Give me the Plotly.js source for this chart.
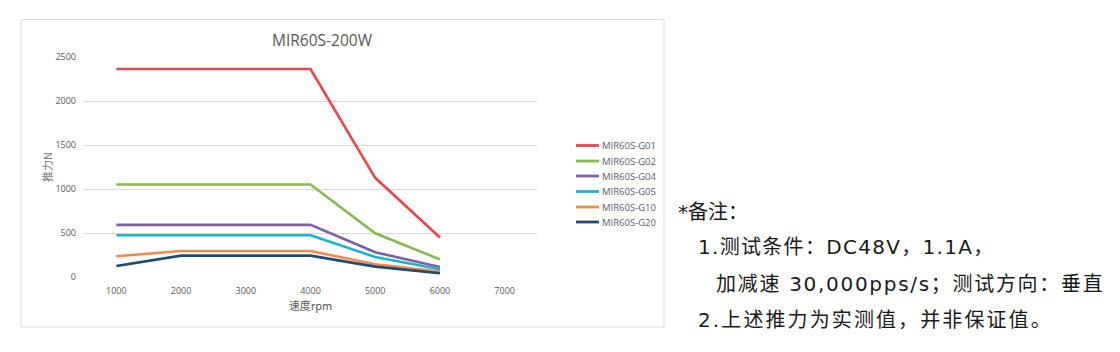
<!DOCTYPE html>
<html>
<head>
<meta charset="utf-8">
<script src="https://cdn.plot.ly/plotly-3.0.1.min.js"></script>
<style>
html,body{margin:0;padding:0;background:#fff;}
#chart{width:1120px;height:352px;}
</style>
</head>
<body>
<div id="chart"></div>
<script>
// ---- data ----
const speeds = [1000, 2000, 3000, 4000, 5000, 6000];
const xTicks = [1000, 2000, 3000, 4000, 5000, 6000, 7000];
const seriesNames = ["MIR60S-G01", "MIR60S-G02", "MIR60S-G04", "MIR60S-G05", "MIR60S-G10", "MIR60S-G20"];
const g01 = [2363, 2363, 2363, 2363, 1127, 448];
const g02 = [1051, 1051, 1051, 1051, 497, 200];
const g04 = [592, 592, 592, 592, 281, 114];
const g05 = [474, 474, 474, 474, 228, 87];
const g10 = [235, 296, 296, 296, 144, 61];
const g20 = [125, 243, 243, 243, 118, 42];
const yTicks = [0, 500, 1000, 1500, 2000, 2500];
const chartTitle = "MIR60S-200W";
const xTitle = "速度rpm";
const yTitle = "推力N";
const noteLines = ["*备注：", "1.测试条件：DC48V，1.1A，", "加减速 30,000pps/s；测试方向：垂直", "2.上述推力为实测值，并非保证值。"];

const seriesValues = [g01, g02, g04, g05, g10, g20];
const colors = ["#e8474c", "#86bc4f", "#7f5fa7", "#17b4ce", "#f5894a", "#1d4a72"];

// ---- geometry helpers (pixel -> paper) ----
const L = 84, R = 537, T = 57, B = 277;
const W = 1120, H = 352;
const px = x => (x - L) / (R - L);
const py = y => (B - y) / (B - T);

const traces = seriesValues.map((vals, i) => ({
  x: speeds, y: vals, type: "scatter", mode: "lines", name: seriesNames[i],
  line: {color: colors[i], width: 2.6}, showlegend: false, hoverinfo: "skip"
}));

const shapes = [
  {type: "rect", xref: "paper", yref: "paper", x0: px(21), x1: px(664), y0: py(327), y1: py(19.5),
   line: {color: "#d9d9d9", width: 1}, fillcolor: "rgba(0,0,0,0)"}
];
const annotations = [];
const legendY = [145.5, 161, 176, 191.5, 207, 222];
seriesNames.forEach((n, i) => {
  shapes.push({type: "line", xref: "paper", yref: "paper", x0: px(576), x1: px(599),
    y0: py(legendY[i]), y1: py(legendY[i]), line: {color: colors[i], width: 2.8}});
  annotations.push({xref: "paper", yref: "paper", x: px(600), y: py(legendY[i]), xanchor: "left", yanchor: "middle",
    text: n, showarrow: false, font: {family: "Open Sans, Noto Sans CJK SC", size: 9.5, color: "#5a6068"}});
});
// notes
const noteX = [676, 696, 714, 696];
const noteYs = [212, 247, 284, 320];
const noteSpacing = [0, 1.3, 1.7, 2.1];
noteLines.forEach((t, i) => {
  annotations.push({xref: "paper", yref: "paper", x: px(noteX[i]), y: py(noteYs[i]), xanchor: "left", yanchor: "middle",
    text: '<span style="letter-spacing:' + noteSpacing[i] + 'px">' + t + '</span>', showarrow: false,
    font: {family: "DejaVu Sans, Noto Sans CJK SC", size: 20, color: "#1a1a1a"}});
});
// title
annotations.push({xref: "paper", yref: "paper", x: px(322), y: py(40), xanchor: "center", yanchor: "middle",
  text: chartTitle, showarrow: false, font: {family: "Open Sans, Noto Sans CJK SC", size: 15.5, color: "#595959"}});

const layout = {
  width: W, height: H,
  margin: {l: L, r: W - R, t: T, b: H - B, pad: 0},
  paper_bgcolor: "#fff", plot_bgcolor: "#fff",
  showlegend: false,
  xaxis: {
    range: [500, 7500], tickvals: xTicks, ticktext: xTicks.map(String),
    showgrid: false, zeroline: false, showline: false, ticks: "",
    ticklabelstandoff: 7,
    tickfont: {family: "Open Sans, Noto Sans CJK SC", size: 9, color: "#595959"},
    title: {text: xTitle, standoff: 4, font: {family: "Noto Sans CJK SC", size: 11, color: "#595959"}}
  },
  yaxis: {
    range: [0, 2500], tickvals: yTicks, ticktext: yTicks.map(String),
    showgrid: true, gridcolor: "#d9d9d9", gridwidth: 1, zeroline: false, showline: false, ticks: "",
    ticklabelstandoff: 7,
    tickfont: {family: "Open Sans, Noto Sans CJK SC", size: 9, color: "#595959"},
    title: {text: yTitle, standoff: 0, font: {family: "Noto Sans CJK SC", size: 11, color: "#7a7a7a"}}
  },
  shapes: shapes,
  annotations: annotations
};

Plotly.newPlot("chart", traces, layout, {staticPlot: true, displayModeBar: false});
</script>
</body>
</html>
